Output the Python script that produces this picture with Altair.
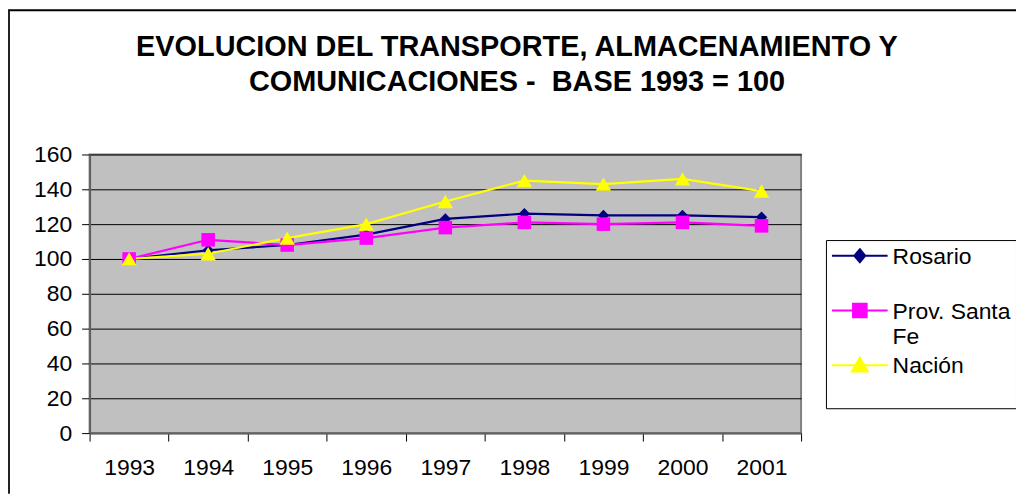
import altair as alt
import pandas as pd

# ---- data ----
years = ["1993", "1994", "1995", "1996", "1997", "1998", "1999", "2000", "2001"]
rosario = [100, 105, 108, 114, 123, 126, 125, 125, 124]
prov_santa_fe = [100, 111, 108, 112, 118, 121, 120, 121, 119]
nacion = [100, 103, 112, 120, 133, 145, 143, 146, 139]
series_names = ["Rosario", "Prov. Santa Fe", "Nación"]
series_colors = ["#000080", "#FF00FF", "#FFFF00"]
marker_shapes = ["diamond", "square", "triangle-up"]
marker_sizes = [130, 240, 250]
y_ticks = [0, 20, 40, 60, 80, 100, 120, 140, 160]
title_lines = ["EVOLUCION DEL TRANSPORTE, ALMACENAMIENTO Y",
               "COMUNICACIONES -\u00a0 BASE 1993 = 100"]

FONT = "Liberation Sans"
W, H = 715, 280

rows = []
for name, vals in zip(series_names, [rosario, prov_santa_fe, nacion]):
    for yr, v in zip(years, vals):
        rows.append({"year": yr, "value": v, "serie": name})
df = pd.DataFrame(rows)

# legend symbols: line with marker (custom paths; 1 unit = 18 px)
c = -0.46    # vertical offset of the line (aligns with label caps)
mx = 0.555   # marker centre along the line
def f(v):
    return f"{v:.2f}"
legend_paths = [
    f"M-1,{f(c)}H2.11M{f(mx)},{f(c-0.36)}L{f(mx+0.31)},{f(c)}L{f(mx)},{f(c+0.36)}L{f(mx-0.31)},{f(c)}Z",
    f"M-1,{f(c)}H2.11M{f(mx-0.38)},{f(c-0.38)}H{f(mx+0.38)}V{f(c+0.38)}H{f(mx-0.38)}Z",
    f"M-1,{f(c)}H2.11M{f(mx)},{f(c-0.42)}L{f(mx+0.44)},{f(c+0.36)}L{f(mx-0.44)},{f(c+0.36)}Z",
]

x_enc = alt.X(
    "year:O",
    bandPosition=0.5,
    scale=alt.Scale(type="band", domain=years, paddingInner=0, paddingOuter=0),
    axis=alt.Axis(title=None, labelAngle=0, tickBand="extent", tickSize=8,
                  tickColor="black", labelPadding=16, labelFontSize=23,
                  labelFont=FONT, labelColor="black", domainColor="#606060",
                  domainWidth=2, grid=False),
)
y_enc = alt.Y(
    "value:Q",
    scale=alt.Scale(domain=[0, 160], nice=False, zero=True),
    axis=alt.Axis(values=y_ticks, title=None, grid=True, gridColor="black",
                  gridWidth=1, tickColor="black", tickSize=8, labelPadding=10,
                  labelFontSize=23, labelFont=FONT, labelColor="black",
                  domainColor="#606060", domainWidth=2),
)
color_scale = alt.Scale(domain=series_names, range=series_colors)

base = alt.Chart(df)

lines = base.mark_line(strokeWidth=2.2).encode(
    x=x_enc, y=y_enc,
    color=alt.Color("serie:N", scale=color_scale, legend=None),
)

points = base.mark_point(filled=True, opacity=1).encode(
    x=x_enc, y=y_enc,
    color=alt.Color("serie:N", scale=color_scale, legend=None),
    shape=alt.Shape("serie:N", scale=alt.Scale(domain=series_names, range=marker_shapes), legend=None),
    size=alt.Size("serie:N", scale=alt.Scale(domain=series_names, range=marker_sizes), legend=None),
)

leg_cfg = dict(
    title=None, orient="none", legendX=740, legendY=86,
    symbolSize=1296, symbolStrokeWidth=2, symbolOpacity=1,
    labelFontSize=23, labelFont=FONT, labelColor="black",
    labelBaseline="alphabetic", labelOffset=24, labelLimit=300,
    padding=5, fillColor="white", strokeColor="black", rowPadding=5,
    labelExpr="datum.label == 'Prov. Santa Fe' ? ['Prov. Santa', 'Fe'] : [datum.label, '']",
)

legend_layer = alt.Chart(pd.DataFrame({"serie": series_names})).mark_point(
    filled=True, opacity=1, clip=True, strokeWidth=2
).encode(
    x=alt.value(10), y=alt.value(-500),
    color=alt.Color("serie:N", scale=alt.Scale(domain=series_names, range=series_colors),
                    legend=alt.Legend(**leg_cfg)),
    stroke=alt.Stroke("serie:N", scale=alt.Scale(domain=series_names, range=series_colors),
                      legend=alt.Legend(**leg_cfg)),
    shape=alt.Shape("serie:N", scale=alt.Scale(domain=series_names, range=legend_paths),
                    legend=alt.Legend(**leg_cfg)),
)

frame_top = alt.Chart(alt.Data(values=[{}])).mark_rule(color="black", strokeWidth=2).encode(
    x=alt.value(-82), x2=alt.value(W + 216), y=alt.value(-145)
)
frame_left = alt.Chart(alt.Data(values=[{}])).mark_rule(color="#222222", strokeWidth=2).encode(
    x=alt.value(-81), y=alt.value(-145), y2=alt.value(H + 61)
)

chart = alt.layer(frame_top, frame_left, lines, points, legend_layer).resolve_scale(
    color="independent", shape="independent", stroke="independent", size="independent"
).properties(
    width=W, height=H,
    background="white",
    autosize=alt.AutoSizeParams(type="none"),
    padding={"left": 82, "top": 146, "right": 216, "bottom": 61},
    title=alt.TitleParams(text=title_lines, fontSize=29, font=FONT, fontWeight="bold",
                          color="black", lineHeight=35, anchor="middle", dx=72,
                          baseline="bottom", offset=-117),
).configure_view(
    fill="#C0C0C0", stroke="#808080", strokeWidth=2
)

chart.save("out.html", embed_options={"renderer": "svg", "actions": False})
